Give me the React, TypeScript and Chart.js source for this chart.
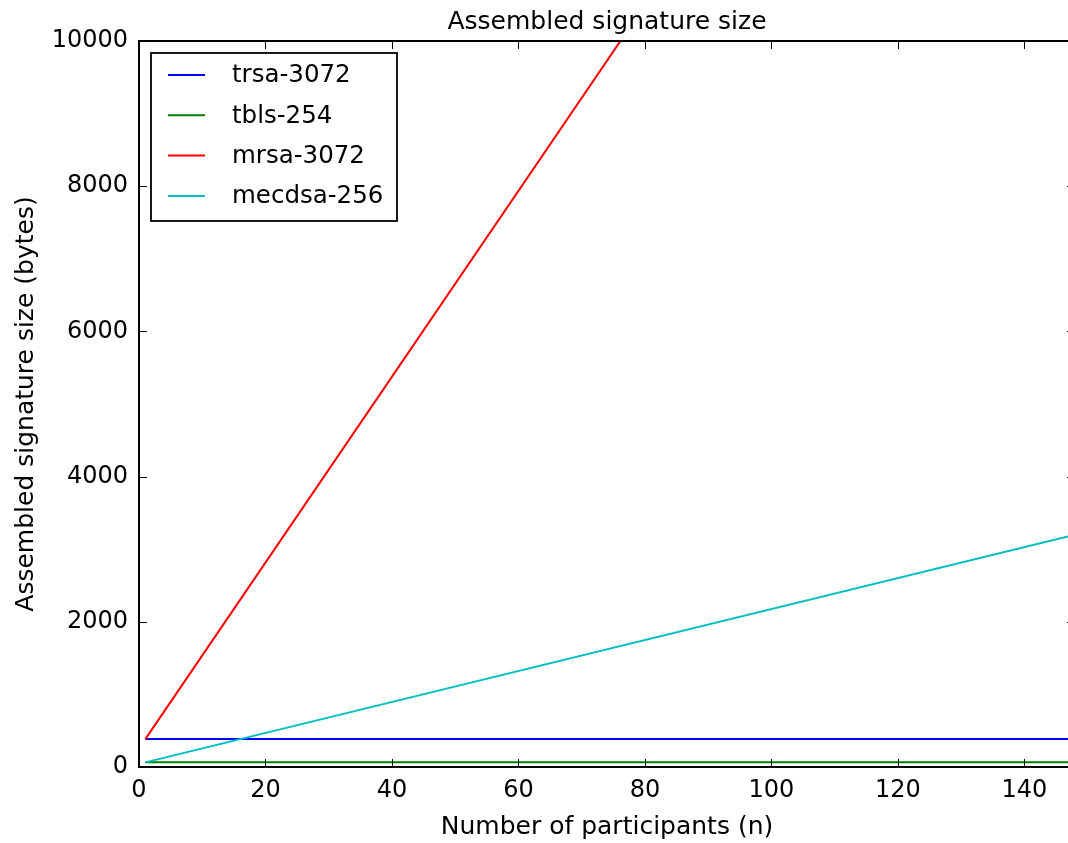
import { useEffect, useRef } from "react";
import { Chart, registerables } from "chart.js";

Chart.register(...registerables);

// Number of participants at the two ends of each (straight) series
const participantsN = [1, 148];

// Assembled signature size in bytes
const trsa3072 = [384, 384];
const tbls254 = [64, 64];
const mrsa3072 = [384, 19200];
const mecdsa256 = [64, 3200];

const seriesNames = ["trsa-3072", "tbls-254", "mrsa-3072", "mecdsa-256"];
const seriesColors = ["#0000ff", "#008000", "#ff0000", "#00bfbf"];

const xTicks = [0, 20, 40, 60, 80, 100, 120, 140];
const yTicks = [0, 2000, 4000, 6000, 8000, 10000];

const chartTitle = "Assembled signature size";
const xTitle = "Number of participants (n)";
const yTitle = "Assembled signature size (bytes)";

const FONT = "'DejaVu Sans', sans-serif";

// Frame, inward tick marks, titles and the boxed legend, drawn in the classic style
const frameAndLegend = {
  id: "frameAndLegend",
  afterDraw(chart: any) {
    const { ctx, chartArea } = chart;
    const { left, right, top, bottom } = chartArea;
    const xs = chart.scales.x;
    const ys = chart.scales.y;
    const tickLen = 8;

    ctx.save();
    ctx.strokeStyle = "#000";
    ctx.lineWidth = 1;
    ctx.beginPath();
    xTicks.forEach((v) => {
      const px = Math.round(xs.getPixelForValue(v)) + 0.5;
      ctx.moveTo(px, bottom);
      ctx.lineTo(px, bottom - tickLen);
      ctx.moveTo(px, top);
      ctx.lineTo(px, top + tickLen);
    });
    yTicks.forEach((v) => {
      const py = Math.round(ys.getPixelForValue(v)) + 0.5;
      ctx.moveTo(left, py);
      ctx.lineTo(left + tickLen, py);
      ctx.moveTo(right, py);
      ctx.lineTo(right - tickLen, py);
    });
    ctx.stroke();

    ctx.lineWidth = 2;
    ctx.strokeRect(left, top, right - left, bottom - top);

    // titles
    ctx.fillStyle = "#000";
    ctx.font = `25px ${FONT}`;
    ctx.textAlign = "center";
    ctx.textBaseline = "alphabetic";
    const cx = (left + right) / 2;
    ctx.fillText(chartTitle, cx, 29);
    ctx.fillText(xTitle, cx, 834);
    ctx.save();
    ctx.translate(33, (top + bottom) / 2);
    ctx.rotate(-Math.PI / 2);
    ctx.fillText(yTitle, 0, 0);
    ctx.restore();

    // legend
    const bx = 151, by = 53, bw = 246, bh = 168;
    ctx.fillStyle = "#fff";
    ctx.fillRect(bx, by, bw, bh);
    ctx.lineWidth = 1.8;
    ctx.strokeStyle = "#000";
    ctx.strokeRect(bx, by, bw, bh);
    ctx.font = `24.5px ${FONT}`;
    ctx.textAlign = "left";
    ctx.textBaseline = "middle";
    chart.data.datasets.forEach((ds: any, i: number) => {
      const ry = 75 + i * 40.3;
      ctx.strokeStyle = ds.borderColor;
      ctx.lineWidth = 2;
      ctx.beginPath();
      ctx.moveTo(168, ry);
      ctx.lineTo(205, ry);
      ctx.stroke();
      ctx.fillStyle = "#000";
      ctx.fillText(ds.label, 232, ry + 1);
    });
    ctx.restore();
  },
};

export default function App() {
  const canvasRef = useRef<HTMLCanvasElement | null>(null);

  useEffect(() => {
    document.body.style.margin = "0";
    const canvas = canvasRef.current;
    if (!canvas) return;

    const seriesValues = [trsa3072, tbls254, mrsa3072, mecdsa256];
    const datasets = seriesValues.map((vals, i) => ({
      label: seriesNames[i],
      data: vals.map((y, j) => ({ x: participantsN[j], y })),
      borderColor: seriesColors[i],
      backgroundColor: seriesColors[i],
      borderWidth: 2,
      pointRadius: 0,
      tension: 0,
      fill: false,
      order: 3 - i,
    }));

    const chart = new Chart(canvas, {
      type: "line",
      data: { datasets },
      options: {
        animation: false,
        responsive: false,
        devicePixelRatio: 1,
        layout: { padding: { left: 0, top: 41, right: 5, bottom: 0 } },
        plugins: {
          legend: { display: false },
          tooltip: { enabled: false },
          title: { display: false },
        },
        scales: {
          x: {
            type: "linear",
            min: 0,
            max: 148,
            grid: { display: false, drawTicks: false, tickLength: 0 },
            border: { display: false },
            ticks: {
              stepSize: 20,
              includeBounds: false,
              color: "#000",
              font: { family: FONT, size: 24 },
              padding: 9,
              maxRotation: 0,
            },
            afterBuildTicks: (s: any) => {
              s.ticks = xTicks.map((v) => ({ value: v }));
            },
            afterFit: (s: any) => {
              s.height = 76;
            },
          },
          y: {
            type: "linear",
            min: 0,
            max: 10000,
            grid: { display: false, drawTicks: false, tickLength: 0 },
            border: { display: false },
            ticks: {
              color: "#000",
              font: { family: FONT, size: 24 },
              padding: 11,
              callback: (v: any) => String(v),
            },
            afterBuildTicks: (s: any) => {
              s.ticks = yTicks.map((v) => ({ value: v }));
            },
            afterFit: (s: any) => {
              s.width = 139;
            },
          },
        },
      },
      plugins: [frameAndLegend],
    } as any);

    return () => chart.destroy();
  }, []);

  return (
    <div
      style={{
        position: "fixed",
        left: 0,
        top: 0,
        width: 1068,
        height: 843,
        overflow: "hidden",
        background: "#fff",
      }}
    >
      <canvas ref={canvasRef} width={1080} height={843} style={{ display: "block" }} />
    </div>
  );
}
